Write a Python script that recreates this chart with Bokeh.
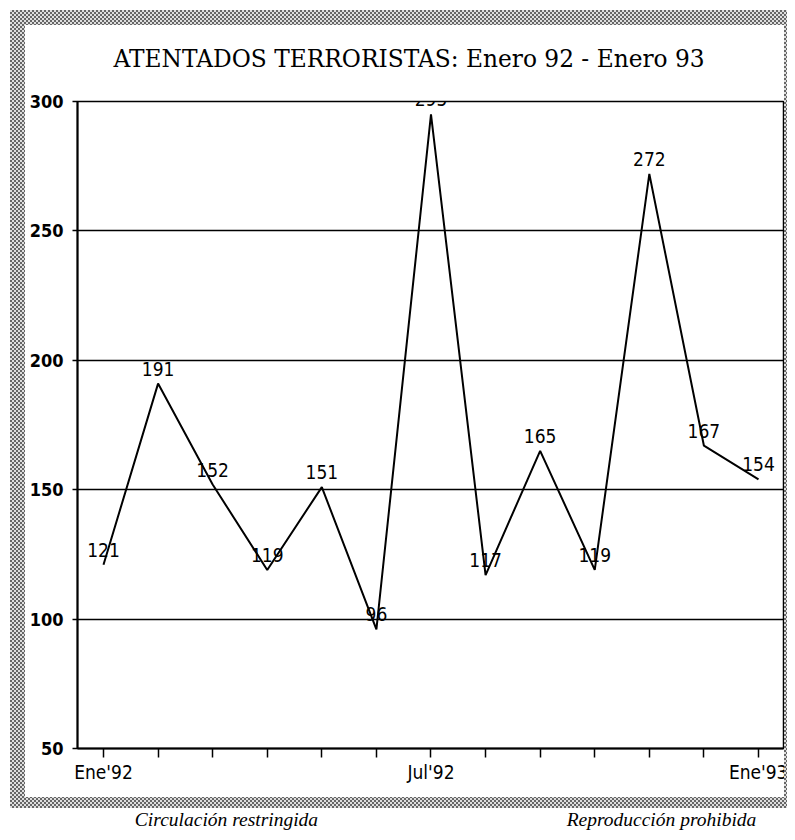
from bokeh.plotting import figure
from bokeh.models import (ColumnDataSource, FixedTicker, Range1d, LinearAxis, Title,
                          InlineStyleSheet)
from bokeh.core.properties import value
from bokeh.embed import file_html
from bokeh.resources import INLINE

# ---- data ----
months = ["Ene'92", "Feb'92", "Mar'92", "Abr'92", "May'92", "Jun'92", "Jul'92",
          "Ago'92", "Sep'92", "Oct'92", "Nov'92", "Dic'92", "Ene'93"]
attacks = [121, 191, 152, 119, 151, 96, 295, 117, 165, 119, 272, 167, 154]
y_ticks = [50, 100, 150, 200, 250, 300]
shown_month_labels = {0: "Ene'92", 6: "Jul'92", 12: "Ene'93"}
title_text = "ATENTADOS TERRORISTAS: Enero 92 - Enero 93"
footer_left = "Circulación restringida"
footer_right = "Reproducción prohibida"

idx = list(range(len(months)))
src = ColumnDataSource(dict(x=idx, y=attacks, lab=[str(v) for v in attacks]))

W, H = 787, 832
FL, FR, FT, FB = 77, 783, 101, 748          # frame edges in canvas px
X0, X1, Y0, Y1 = -0.476, 12.458, 50, 300

# grey dithered frame drawn by CSS over the canvas edges
css = """
:host { position: relative; }
:host::after {
  content: "";
  position: absolute;
  left: 10px; top: 10px; width: 777px; height: 798px;
  background: repeating-conic-gradient(#666666 0 25%, #dedede 0 50%) 0 0 / 4px 4px;
  clip-path: polygon(evenodd, 0 0, 100% 0, 100% 100%, 0 100%, 0 0,
                     15px 15px, 15px calc(100% - 11px), calc(100% - 3px) calc(100% - 11px),
                     calc(100% - 3px) 15px, 15px 15px);
  z-index: 10;
  pointer-events: none;
}
:host::before {
  content: "";
  position: absolute;
  box-sizing: border-box;
  left: 24px; top: 24px; width: 761px; height: 774px;
  border: 1px solid #222;
  z-index: 10;
  pointer-events: none;
}
"""

p = figure(width=W, height=H, output_backend="svg", toolbar_location=None,
           x_range=Range1d(X0, X1), y_range=Range1d(Y0, Y1),
           min_border_left=FL, min_border_right=W - FR, min_border_top=FT,
           min_border_bottom=H - FB, x_axis_location=None, y_axis_location=None,
           stylesheets=[InlineStyleSheet(css=css)])
p.extra_x_ranges = {"foot": Range1d(0, FR - FL)}
p.background_fill_color = "white"
p.border_fill_color = "white"
p.outline_line_color = "black"
p.outline_line_width = 1.5
p.xgrid.visible = False

p.title = Title(text=title_text, text_font="DejaVu Serif", text_font_size="23.3px",
                text_font_style="normal", text_color="black", align="left",
                offset=36, standoff=59)

TICKFONT = "DejaVu Sans Condensed"

yax = LinearAxis(ticker=FixedTicker(ticks=y_ticks))
yax.axis_line_width = 2
yax.axis_line_color = "black"
yax.major_tick_out = 5
yax.major_tick_in = 0
yax.major_tick_line_width = 1.5
yax.minor_tick_out = 0
yax.minor_tick_in = 0
yax.major_label_standoff = 9
yax.major_label_text_font = TICKFONT
yax.major_label_text_font_size = "18px"
yax.major_label_text_font_style = "bold"
yax.major_label_text_color = "black"
p.add_layout(yax, "left")

xax = LinearAxis(ticker=FixedTicker(ticks=idx))
xax.axis_line_width = 2
xax.axis_line_color = "black"
xax.major_tick_out = 9
xax.major_tick_in = 0
xax.major_tick_line_width = 1.5
xax.minor_tick_out = 0
xax.minor_tick_in = 0
xax.major_label_standoff = 3
xax.major_label_text_font = TICKFONT
xax.major_label_text_font_size = "19px"
xax.major_label_text_color = "black"
xax.major_label_overrides = {i: shown_month_labels.get(i, "") for i in idx}
p.add_layout(xax, "below")

# footer line, as labels of a bare axis below
foot = LinearAxis(x_range_name="foot", ticker=FixedTicker(ticks=[149, 584]))
foot.major_label_overrides = {149: footer_left, 584: footer_right}
foot.axis_line_alpha = 0
foot.major_tick_out = 0
foot.major_tick_in = 0
foot.minor_tick_out = 0
foot.minor_tick_in = 0
foot.major_label_standoff = 23
foot.major_label_text_font = "Liberation Serif"
foot.major_label_text_font_style = "italic"
foot.major_label_text_font_size = "19.5px"
foot.major_label_text_color = "black"
p.add_layout(foot, "below")

p.ygrid.ticker = FixedTicker(ticks=y_ticks)
p.ygrid.grid_line_color = "black"
p.ygrid.grid_line_width = 1.5
p.ygrid.grid_line_alpha = 1.0

p.line("x", "y", source=src, line_color="black", line_width=2)
p.text("x", "y", text="lab", source=src, text_font=value(TICKFONT),
       text_font_size="19px", text_align="center", text_baseline="middle",
       y_offset=-15, text_color="black")

open("out.html", "w").write(file_html(p, INLINE))
